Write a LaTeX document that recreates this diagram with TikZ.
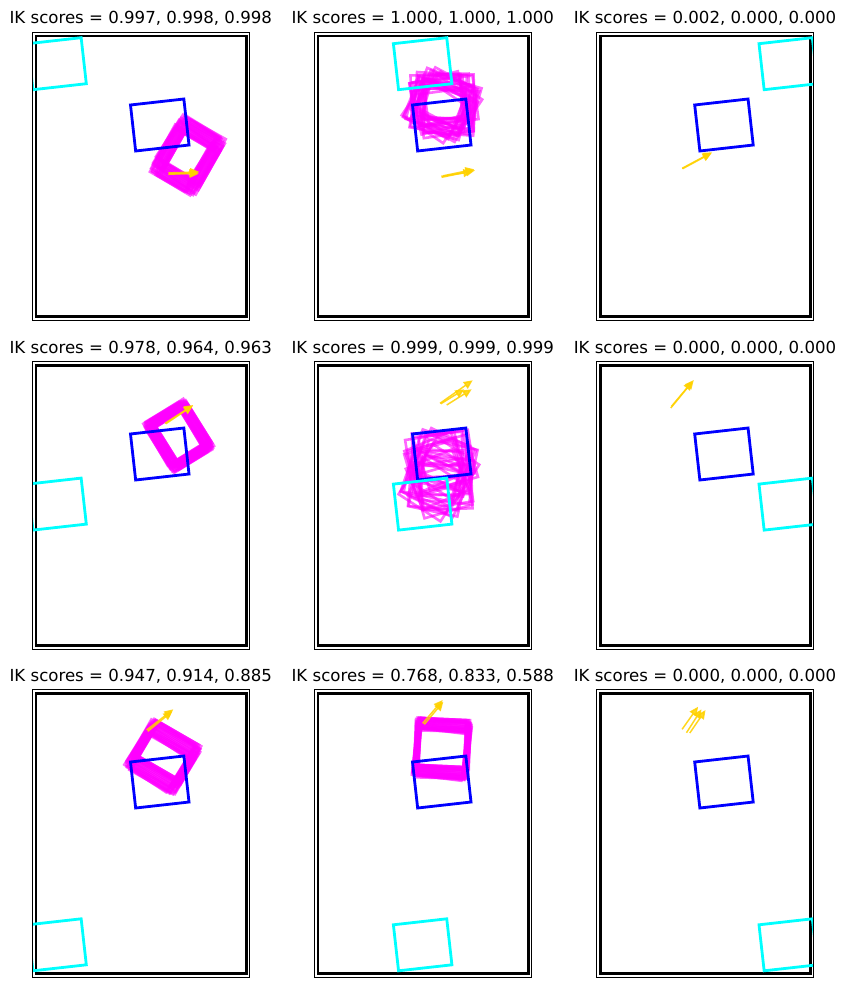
\documentclass[tikz,border=0pt]{standalone}
\usepackage{fontspec}
\setmainfont{DejaVu Sans}
\usetikzlibrary{arrows.meta}
\definecolor{magc}{RGB}{255,0,255}
\definecolor{cyanc}{RGB}{0,255,255}
\definecolor{bluec}{RGB}{0,0,255}
\definecolor{goldc}{RGB}{255,210,0}
\tikzset{
  magline/.style={draw=magc, line width=2.6pt, draw opacity=0.6},
  goalbox/.style={draw=bluec, line width=2.8pt},
  startbox/.style={draw=cyanc, line width=2.8pt},
  pusharrow/.style={draw=goldc, fill=goldc, line width=1.5pt, opacity=0.85, -{Triangle[length=9pt,width=8pt]}},
  workspace/.style={draw=black, line width=2.8pt},
  axesframe/.style={draw=black, line width=1.1pt},
  ptitle/.style={anchor=base, font=\fontsize{16.6}{20}\selectfont, inner sep=0pt}
}
\newcommand\magbundle[8]{%
  \begin{scope}[shift={(#1,#2)}, rotate={-(#3)}]
    \foreach \u/\v/\r in {-8/-4/2, -6/3/-3, -4/-5/1, -2/2/4, 0/0/0, 2/-3/-2, 4/5/3, 6/-1/-4, 8/4/1, -7/1/-1, 5/-5/2, 1/4/-3, -3/-2/3, 7/2/0,
      -8/2/-2, -5/-3/4, -1/5/-1, 3/-4/-3, 6/3/2, 8/-2/-1, -6/-1/3, 2/1/-4, 0/-5/2, -4/4/0, 4/0/1, -2/-4/-2, 7/-3/3, -7/5/-4}{
      \draw[magline, shift={({#6*(\u)},{#7*(\v)})}, rotate={#8*(\r)}]
        (-#4,-#5) -- (#4,-#5) -- (#4,#5) -- (-#4,#5) -- cycle;
    }
  \end{scope}}
\newcommand\ikbox[3]{%
  \draw[#1, shift={(#2,#3)}, rotate=6.4]
    (-26.85,-23.15) -- (26.85,-23.15) -- (26.85,23.15) -- (-26.85,23.15) -- cycle;}
\newcommand\parr[4]{\draw[pusharrow] (#1,#2) -- (#3,#4);}
\newcommand\ikpanel[7]{%
  \begin{scope}[shift={(#1,#2)}]
    \node[ptitle] at (108.5,-8.3) {#3};
    \begin{scope}
      \clip (0,0) rectangle (217,288);
      \draw[workspace] (3.7,3.8) rectangle (213.8,284);
      #6
      \ikbox{goalbox}{127.45}{92.7}
      \ikbox{startbox}{#4}{#5}
      #7
    \end{scope}
    \draw[axesframe] (0,0) rectangle (217,288);
  \end{scope}}
\begin{document}
\begin{tikzpicture}[x=1pt, y=-1pt]
\useasboundingbox (0,0) rectangle (845,990);
\fill[white] (0,0) rectangle (845,990);
% row 1
\ikpanel{32.3}{32.3}{IK scores = 0.997, 0.998, 0.998}{24.75}{31.4}
  {\magbundle{155.6}{123.3}{120.5}{25}{20}{1}{1.2}{0.6}}
  {\parr{136}{140.6}{167}{139.6}\parr{136}{142}{166}{140.6}\parr{137}{141.2}{166.5}{141.5}}
\ikpanel{314.3}{32.3}{IK scores = 1.000, 1.000, 1.000}{108.35}{31.4}
  {\magbundle{128.7}{72}{10}{25}{22}{1}{1.6}{6}}
  {\parr{127.4}{145}{160.7}{138}\parr{129}{143.5}{160}{137}\parr{127}{144}{158}{139.5}}
\ikpanel{596.5}{32.3}{IK scores = 0.002, 0.000, 0.000}{191.75}{31.4}
  {}
  {\parr{85.6}{136}{115.6}{120}\parr{86}{136.5}{115}{120.8}}
% row 2
\ikpanel{32.3}{361.3}{IK scores = 0.978, 0.964, 0.963}{24.75}{142.8}
  {\magbundle{146.5}{74.5}{58.5}{24.25}{19.5}{0.6}{1.0}{0.3}}
  {\parr{132.7}{62}{161}{43.7}\parr{133.5}{62.5}{160.5}{44.5}}
\ikpanel{314.3}{361.3}{IK scores = 0.999, 0.999, 0.999}{108.35}{142.8}
  {\magbundle{125.7}{111.2}{5}{25}{22}{1}{3.5}{7}}
  {\parr{125.7}{42}{158.4}{19}\parr{132.4}{43.7}{157.4}{28}\parr{126.5}{42.5}{150}{28}}
\ikpanel{596.5}{361.3}{IK scores = 0.000, 0.000, 0.000}{191.75}{142.8}
  {}
  {\parr{74.3}{46.7}{97.3}{18.7}\parr{75}{45}{96}{20}}
% row 3
\ikpanel{32.3}{689.3}{IK scores = 0.947, 0.914, 0.885}{24.75}{255.5}
  {\magbundle{131}{67.4}{31}{25}{20}{0.5}{1.6}{0.6}}
  {\parr{114.4}{40.7}{141}{20}\parr{115.5}{42}{140}{22}}
\ikpanel{314.3}{689.3}{IK scores = 0.768, 0.833, 0.588}{108.35}{255.5}
  {\magbundle{127.8}{59.2}{4}{25}{23.5}{0.3}{1.2}{0.8}}
  {\parr{108.4}{34}{128.4}{10.7}\parr{110}{35}{129}{12.5}}
\ikpanel{596.5}{689.3}{IK scores = 0.000, 0.000, 0.000}{191.75}{255.5}
  {}
  {\parr{85.6}{40}{101.6}{17.4}\parr{90}{43.4}{105}{20}\parr{93.3}{43.7}{109}{20.7}}
\end{tikzpicture}
\end{document}
